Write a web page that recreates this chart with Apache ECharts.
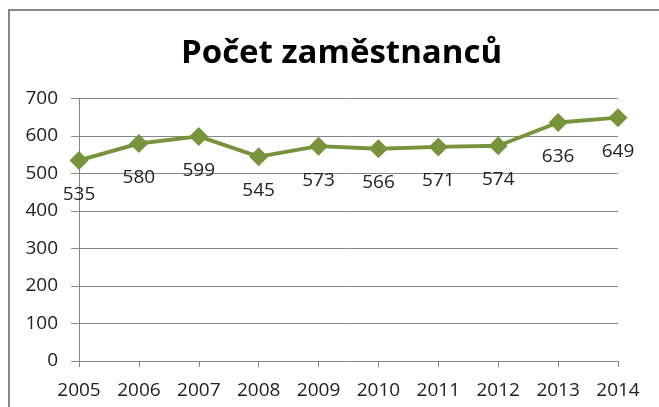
<!DOCTYPE html>
<html>
<head>
<meta charset="utf-8">
<script src="https://cdn.jsdelivr.net/npm/echarts@6/dist/echarts.min.js"></script>
<style>
  html, body { margin: 0; padding: 0; background: #fff; }
  #chart { width: 659px; height: 407px; }
</style>
</head>
<body>
<div id="chart"></div>
<script>
  // Počet zaměstnanců po letech
  var years = ['2005', '2006', '2007', '2008', '2009', '2010', '2011', '2012', '2013', '2014'];
  var employees = [535, 580, 599, 545, 573, 566, 571, 574, 636, 649];
  var yTicks = [0, 100, 200, 300, 400, 500, 600, 700];

  var txtFont = 'Open Sans';
  var myChart = echarts.init(document.getElementById('chart'));
  myChart.setOption({
    animation: false,
    title: {
      text: 'Počet zaměstnanců',
      left: 176,
      top: 32,
      textStyle: {
        fontFamily: txtFont,
        fontWeight: 'bold',
        fontSize: 33,
        color: '#000'
      }
    },
    graphic: [{
      type: 'rect',
      shape: { x: 9, y: 10, width: 800, height: 600 },
      style: { fill: 'none', stroke: '#878787', lineWidth: 2 },
      silent: true
    }],
    grid: {
      left: 79,
      right: 41,
      top: 98.5,
      bottom: 46
    },
    xAxis: {
      type: 'category',
      boundaryGap: false,
      data: years,
      axisLine: { lineStyle: { color: '#868686', width: 1 } },
      axisTick: { show: true, length: 6, lineStyle: { color: '#868686' } },
      axisLabel: {
        margin: 20,
        fontFamily: txtFont,
        fontSize: 19,
        color: '#222'
      }
    },
    yAxis: {
      type: 'value',
      min: yTicks[0],
      max: yTicks[yTicks.length - 1],
      interval: 100,
      axisLine: { show: true, lineStyle: { color: '#868686', width: 1 } },
      axisTick: { show: true, length: 8, lineStyle: { color: '#868686' } },
      splitLine: { lineStyle: { color: '#868686', width: 1 } },
      axisLabel: {
        margin: 21,
        fontFamily: txtFont,
        fontSize: 19,
        color: '#222'
      }
    },
    series: [{
      type: 'line',
      data: employees,
      symbol: 'diamond',
      symbolSize: 19,
      lineStyle: { color: '#77933C', width: 4 },
      itemStyle: { color: '#77933C' },
      label: {
        show: true,
        position: 'bottom',
        distance: 15,
        fontFamily: txtFont,
        fontSize: 19,
        color: '#222'
      }
    }]
  });
</script>
</body>
</html>
